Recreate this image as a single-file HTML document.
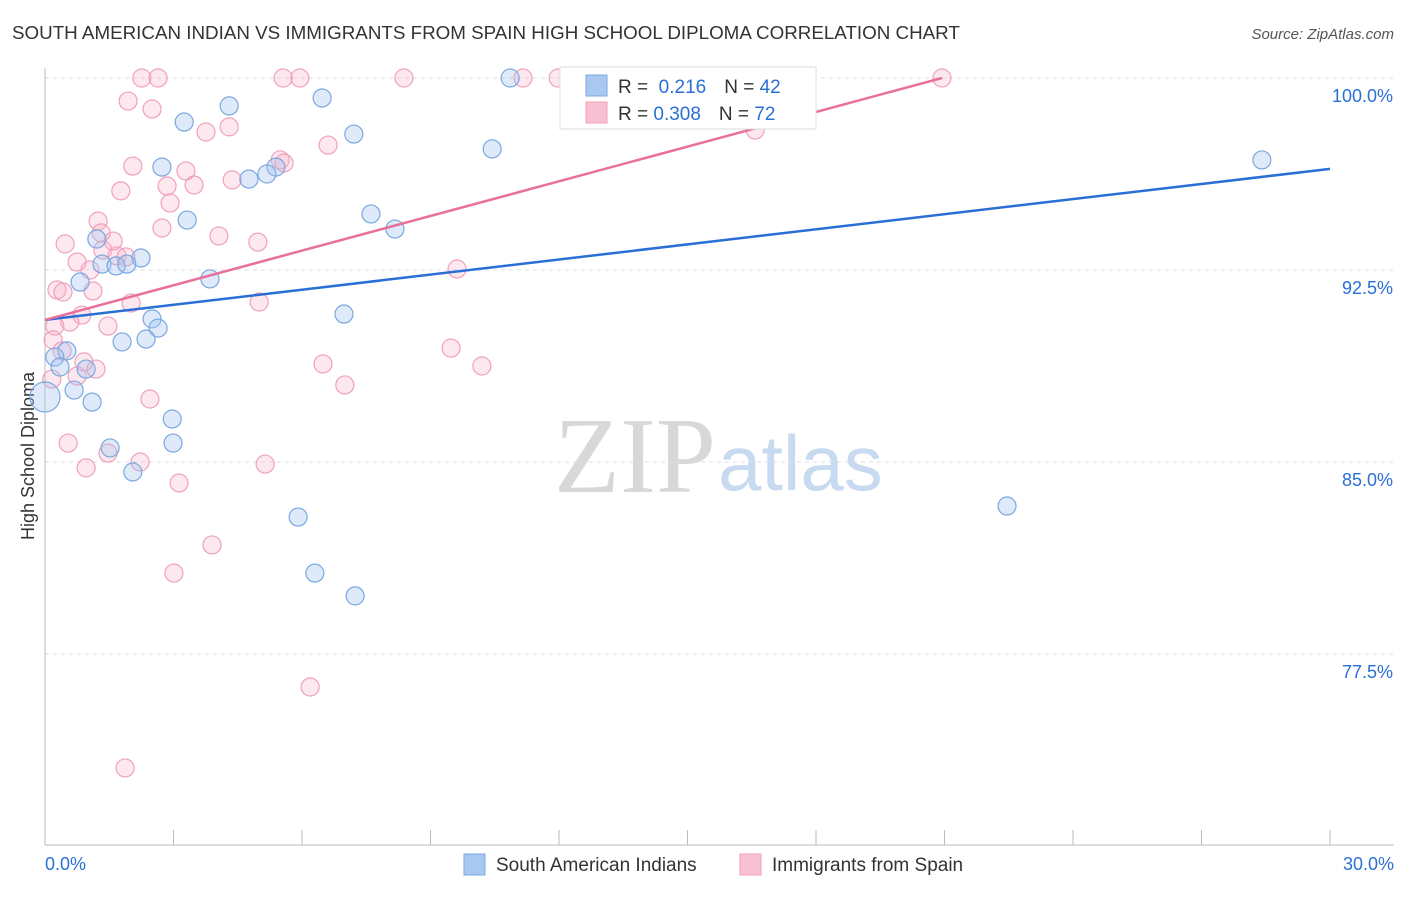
<!DOCTYPE html>
<html><head><meta charset="utf-8"><style>
body{margin:0;background:#fff;font-family:"Liberation Sans",sans-serif}
</style></head><body>
<svg id="c" width="1406" height="892" xmlns="http://www.w3.org/2000/svg" font-family="Liberation Sans, sans-serif">
<text x="12" y="39" font-size="18.8" fill="#333">SOUTH AMERICAN INDIAN VS IMMIGRANTS FROM SPAIN HIGH SCHOOL DIPLOMA CORRELATION CHART</text>
<text x="1394" y="39" font-size="15" fill="#555" font-style="italic" text-anchor="end">Source: ZipAtlas.com</text>
<text x="716" y="492" font-size="108" fill="#d8d8d8" text-anchor="end" font-family="Liberation Serif, serif">ZIP</text>
<text x="718" y="490" font-size="78" fill="#c8daf0">atlas</text>
<text transform="translate(34,456) rotate(-90)" font-size="18" fill="#333" text-anchor="middle">High School Diploma</text>
<g id="grid"></g><g id="pts"></g><g id="lines"></g>
<g>
<rect x="560" y="67" width="256" height="62" fill="#fff" stroke="#ddd"/>
<rect x="586" y="75" width="21" height="21" fill="#a8c8f0" stroke="#7aa8e0"/>
<rect x="586" y="102" width="21" height="21" fill="#f8c0d0" stroke="#f0a0bc"/>
<text x="618" y="93" font-size="19" fill="#333">R = <tspan fill="#2a6fd6">&#160;0.216</tspan><tspan dx="18">N = </tspan><tspan fill="#2a6fd6">42</tspan></text>
<text x="618" y="120" font-size="19" fill="#333">R = <tspan fill="#2a6fd6">0.308</tspan><tspan dx="18">N = </tspan><tspan fill="#2a6fd6">72</tspan></text>
</g>
<g>
<rect x="464" y="854" width="21" height="21" fill="#a8c8f0" stroke="#7aa8e0"/>
<text x="496" y="871" font-size="19" fill="#333">South American Indians</text>
<rect x="740" y="854" width="21" height="21" fill="#f8c0d0" stroke="#f0a0bc"/>
<text x="772" y="871" font-size="19" fill="#333">Immigrants from Spain</text>
</g>
</svg>
<script>
const yTicks=[100,92.5,85,77.5];
const yTickLabels=["100.0%","92.5%","85.0%","77.5%"];
const xTicks=[0,3,6,9,12,15,18,21,24,27,30];
const xEndLabels=["0.0%","30.0%"];
const blueX=[10.86,6.47,4.30,3.25,7.21,10.44,2.73,5.39,5.18,4.76,28.41,7.61,3.32,8.17,1.21,2.24,1.33,1.66,1.91,3.85,0.82,6.98,2.50,2.64,1.80,2.36,0.51,0.23,0.35,0.96,0.68,0,1.10,2.97,2.99,1.52,2.05,5.91,22.46,6.30,7.24];
const blueY=[100,99.22,98.91,98.28,97.81,97.23,96.52,96.52,96.25,96.05,96.80,94.69,94.45,94.10,93.71,92.97,92.73,92.66,92.73,92.15,92.03,90.78,90.59,90.23,89.69,89.80,89.34,89.10,88.71,88.63,87.81,87.54,87.34,86.68,85.74,85.55,84.61,82.85,83.28,80.66,79.77];
const pinkX=[2.26,2.64,5.56,5.95,8.38,11.16,11.98,20.94,1.94,2.50,4.30,3.76,16.58,6.61,5.49,5.58,2.05,3.29,2.85,3.48,4.37,1.77,2.92,1.24,2.73,1.31,4.06,0.47,4.97,1.59,1.35,1.68,1.89,0.75,1.05,9.62,0.28,0.42,1.12,2.01,5.00,0.86,0.58,1.47,0.23,0.19,9.48,0.40,6.49,10.20,0.91,1.19,0.75,0.16,7.00,2.45,0.54,1.47,2.22,0.96,5.14,3.13,3.90,3.01,6.19,1.87];
const pinkY=[100,100,100,100,100,100,100,100,99.10,98.79,98.09,97.89,97.97,97.38,96.80,96.68,96.56,96.37,95.78,95.82,96.02,95.59,95.12,94.41,94.14,93.95,93.83,93.52,93.59,93.63,93.28,93.05,93.01,92.81,92.50,92.54,91.72,91.64,91.68,91.21,91.25,90.74,90.47,90.31,90.31,89.77,89.45,89.34,88.83,88.75,88.91,88.63,88.36,88.24,88.01,87.46,85.74,85.35,85.00,84.77,84.92,84.18,81.76,80.66,76.21,73.05];
const blueTrend=[90.55,96.45];
const pinkTrend=[90.55,100,20.94];
const NS="http://www.w3.org/2000/svg";
const sx=v=>45+v/30*1285, sy=v=>78+(100-v)*25.6;
function mk(t,a,p){const e=document.createElementNS(NS,t);for(const k in a)e.setAttribute(k,a[k]);p.appendChild(e);return e;}
const g=document.getElementById('grid');
yTicks.forEach((v,i)=>{
 const l=mk('line',{x1:45,x2:1394,y1:sy(v),y2:sy(v),stroke:'#ddd','stroke-dasharray':'4,4'},g);
 
 
 const t=mk('text',{x:1393,y:sy(v)+24,'font-size':18,fill:'#2a6fd6','text-anchor':'end'},g);t.textContent=yTickLabels[i];
 
 
});
const ax=mk('line',{x1:45,x2:45,y1:68,y2:845,stroke:'#bbb'},g);


const bx=mk('line',{x1:45,x2:1394,y1:845,y2:845,stroke:'#bbb'},g);


xTicks.forEach(v=>{const l=mk('line',{x1:sx(v),x2:sx(v),y1:830,y2:845,stroke:'#bbb'},g);
 
 });
[[0,'start',45],[30,'end',1394]].forEach((d,i)=>{const t=mk('text',{x:d[2],y:870,'font-size':18,fill:'#2a6fd6','text-anchor':d[1]},g);t.textContent=xEndLabels[i];
 
 });
const P=document.getElementById('pts');
pinkX.forEach((x,i)=>{const c=mk('circle',{cx:sx(x),cy:sy(pinkY[i]),r:9,fill:'rgba(246,178,200,0.3)',stroke:'#f0a0bc','stroke-width':1.2},P);
 
 });
blueX.forEach((x,i)=>{const c=mk('circle',{cx:sx(x),cy:sy(blueY[i]),r:x===0?15:9,fill:'rgba(160,196,240,0.35)',stroke:'#7aa8e0','stroke-width':1.2},P);
 
 });
const L=document.getElementById('lines');
const b=mk('line',{x1:sx(0),y1:sy(blueTrend[0]),x2:sx(30),y2:sy(blueTrend[1]),stroke:'#2a6fd6','stroke-width':2.5},L);


const p=mk('line',{x1:sx(0),y1:sy(pinkTrend[0]),x2:sx(pinkTrend[2]),y2:sy(pinkTrend[1]),stroke:'#e8709a','stroke-width':2.5},L);


</script>
</body></html>
